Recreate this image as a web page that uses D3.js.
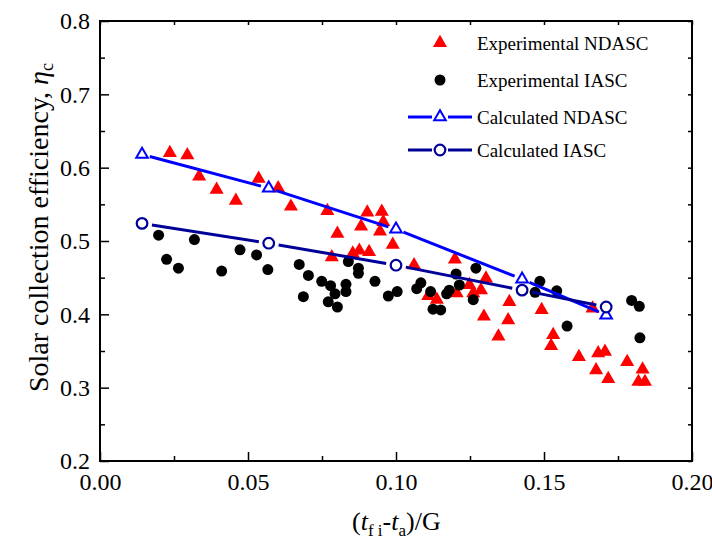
<!DOCTYPE html>
<html lang="en">
<head>
<meta charset="UTF-8">
<title>Solar collection efficiency</title>
<script src="https://cdnjs.cloudflare.com/ajax/libs/d3/7.8.5/d3.min.js"></script>
<style>
    body { margin: 0; padding: 0; background: #fff; }
    svg { display: block; font-family: "Liberation Serif", "Times New Roman", serif; }
</style>
</head>
<body>
<div id="chart"></div>
<script>
// experimental NDASC (red triangles)
const ndascExpX = [0.0236, 0.0295, 0.0335, 0.0394, 0.0459, 0.0536, 0.0602, 0.0645, 0.0768, 0.0802,
    0.0783, 0.0854, 0.0876, 0.0909, 0.0882, 0.0903, 0.0952, 0.0957, 0.0946, 0.0989,
    0.1061, 0.1109, 0.1138, 0.1199, 0.1205, 0.1248, 0.1287, 0.1261, 0.1304, 0.1383,
    0.1297, 0.1379, 0.1346, 0.1492, 0.1531, 0.1524, 0.1618, 0.1683, 0.1706, 0.1676,
    0.1717, 0.1664, 0.1781, 0.1833, 0.1819, 0.1841];
const ndascExpY = [0.620, 0.617, 0.588, 0.570, 0.555, 0.585, 0.572, 0.547, 0.541, 0.510,
    0.478, 0.483, 0.487, 0.485, 0.520, 0.539, 0.540, 0.526, 0.513, 0.495,
    0.467, 0.425, 0.420, 0.475, 0.429, 0.440, 0.433, 0.429, 0.449, 0.417,
    0.397, 0.392, 0.370, 0.406, 0.372, 0.357, 0.342, 0.347, 0.349, 0.324,
    0.312, 0.408, 0.335, 0.325, 0.308, 0.308];

// experimental IASC (black dots)
const iascExpX = [0.0198, 0.0319, 0.0225, 0.0265, 0.0411, 0.0473, 0.0529, 0.0567, 0.0673, 0.0704,
    0.0687, 0.0749, 0.0779, 0.0794, 0.0771, 0.0802, 0.0831, 0.0831, 0.0839, 0.0873,
    0.0873, 0.0929, 0.0974, 0.1004, 0.1070, 0.1084, 0.1117, 0.1125, 0.1151, 0.1171,
    0.1180, 0.1203, 0.1214, 0.1270, 0.1261, 0.1486, 0.1470, 0.1543, 0.1578, 0.1796,
    0.1822, 0.1824];
const iascExpY = [0.508, 0.502, 0.475, 0.463, 0.459, 0.488, 0.481, 0.461, 0.468, 0.453,
    0.424, 0.445, 0.439, 0.428, 0.417, 0.410, 0.441, 0.431, 0.472, 0.463,
    0.456, 0.445, 0.425, 0.431, 0.435, 0.443, 0.431, 0.407, 0.406, 0.428,
    0.433, 0.455, 0.440, 0.463, 0.420, 0.445, 0.430, 0.432, 0.384, 0.419,
    0.411, 0.368];

// calculated curves
const ndascCalcX = [0.0142, 0.0570, 0.1000, 0.1426, 0.1710];
const ndascCalcY = [0.618, 0.572, 0.516, 0.448, 0.399];
const iascCalcX = [0.0142, 0.0570, 0.1000, 0.1426, 0.1710];
const iascCalcY = [0.524, 0.497, 0.467, 0.433, 0.410];

const xTicks = [0, 0.05, 0.10, 0.15, 0.20];
const xMinor = [0.025, 0.075, 0.125, 0.175];
const yTicks = [0.2, 0.3, 0.4, 0.5, 0.6, 0.7, 0.8];
const yMinor = [0.25, 0.35, 0.45, 0.55, 0.65, 0.75];

const legendItems = ['Experimental NDASC', 'Experimental IASC', 'Calculated NDASC', 'Calculated IASC'];

const W = 712, H = 541;
const plotLeft = 100, plotRight = 692, plotTop = 21, plotBottom = 461;

const svg = d3.select('#chart').append('svg')
    .attr('width', W)
    .attr('height', H);

const x = d3.scaleLinear().domain([0, 0.2]).range([plotLeft, plotRight]);
const y = d3.scaleLinear().domain([0.2, 0.8]).range([plotBottom, plotTop]);

const red = '#ff0000';
const blue = '#0000ff';
const navy = '#000099';

const triangle = d3.symbol().type(d3.symbolTriangle).size(86);
const openTri = d3.symbol().type(d3.symbolTriangle).size(58);

// experimental points
const ndascExp = ndascExpX.map((v, i) => [v, ndascExpY[i]]);
const iascExp = iascExpX.map((v, i) => [v, iascExpY[i]]);

svg.append('g').selectAll('path')
    .data(ndascExp)
    .join('path')
    .attr('d', triangle)
    .attr('transform', d => `translate(${x(d[0])},${y(d[1])})`)
    .attr('fill', red);

svg.append('g').selectAll('circle')
    .data(iascExp)
    .join('circle')
    .attr('cx', d => x(d[0]))
    .attr('cy', d => y(d[1]))
    .attr('r', 5.5)
    .attr('fill', '#000');

// calculated lines with gaps around markers (Origin style)
function gappedLine(xs, ys, color, gap) {
    const g = svg.append('g');
    for (let i = 0; i < xs.length - 1; i++) {
        const x1 = x(xs[i]), y1 = y(ys[i]);
        const x2 = x(xs[i + 1]), y2 = y(ys[i + 1]);
        const len = Math.hypot(x2 - x1, y2 - y1);
        const ux = (x2 - x1) / len, uy = (y2 - y1) / len;
        g.append('line')
            .attr('x1', x1 + ux * gap).attr('y1', y1 + uy * gap)
            .attr('x2', x2 - ux * gap).attr('y2', y2 - uy * gap)
            .attr('stroke', color)
            .attr('stroke-width', 3);
    }
    return g;
}

gappedLine(ndascCalcX, ndascCalcY, blue, 8);
gappedLine(iascCalcX, iascCalcY, navy, 10);

svg.append('g').selectAll('path')
    .data(ndascCalcX.map((v, i) => [v, ndascCalcY[i]]))
    .join('path')
    .attr('d', openTri)
    .attr('transform', d => `translate(${x(d[0])},${y(d[1])})`)
    .attr('fill', '#fff')
    .attr('stroke', blue)
    .attr('stroke-width', 2);

svg.append('g').selectAll('circle')
    .data(iascCalcX.map((v, i) => [v, iascCalcY[i]]))
    .join('circle')
    .attr('cx', d => x(d[0]))
    .attr('cy', d => y(d[1]))
    .attr('r', 5.3)
    .attr('fill', '#fff')
    .attr('stroke', navy)
    .attr('stroke-width', 2.2);

// axes: ticks inward
function styleAxis(g) {
    g.select('.domain').remove();
    g.selectAll('line').attr('stroke', '#000').attr('stroke-width', 1.5);
    g.selectAll('text').attr('font-size', 24).attr('fill', '#000')
        .attr('font-family', '"Liberation Serif", "Times New Roman", serif');
}

svg.append('g')
    .attr('transform', `translate(0,${plotBottom})`)
    .call(d3.axisBottom(x).tickValues(xTicks).tickFormat(d3.format('.2f')).tickSize(-9).tickPadding(12))
    .call(styleAxis);
svg.append('g')
    .attr('transform', `translate(0,${plotBottom})`)
    .call(d3.axisBottom(x).tickValues(xMinor).tickFormat('').tickSize(-5))
    .call(styleAxis);
svg.append('g')
    .attr('transform', `translate(${plotLeft},0)`)
    .call(d3.axisLeft(y).tickValues(yTicks).tickFormat(d3.format('.1f')).tickSize(-9).tickPadding(10))
    .call(styleAxis);
svg.append('g')
    .attr('transform', `translate(${plotLeft},0)`)
    .call(d3.axisLeft(y).tickValues(yMinor).tickFormat('').tickSize(-5))
    .call(styleAxis);
svg.append('g')
    .attr('transform', `translate(0,${plotTop})`)
    .call(d3.axisTop(x).tickValues(xTicks.concat(xMinor)).tickFormat('').tickSize(-4))
    .call(styleAxis);
svg.append('g')
    .attr('transform', `translate(${plotRight},0)`)
    .call(d3.axisRight(y).tickValues(yTicks.concat(yMinor)).tickFormat('').tickSize(-4))
    .call(styleAxis);

// frame
svg.append('rect')
    .attr('x', plotLeft).attr('y', plotTop)
    .attr('width', plotRight - plotLeft).attr('height', plotBottom - plotTop)
    .attr('fill', 'none')
    .attr('stroke', '#000')
    .attr('stroke-width', 2);

// axis titles
const yTitle = svg.append('text')
    .attr('transform', 'translate(48,392) rotate(-90)')
    .attr('font-size', 28)
    .attr('fill', '#000');
yTitle.append('tspan').text('Solar collection efficiency, ');
yTitle.append('tspan').attr('font-style', 'italic').text('η');
yTitle.append('tspan').attr('font-size', 18).attr('dy', 5).text('c');

const xTitle = svg.append('text')
    .attr('x', 352).attr('y', 530)
    .attr('font-size', 26)
    .attr('fill', '#000');
xTitle.append('tspan').text('(');
xTitle.append('tspan').attr('font-style', 'italic').text('t');
xTitle.append('tspan').attr('font-size', 17).attr('dy', 6).text('f i');
xTitle.append('tspan').attr('dy', -6).text('-');
xTitle.append('tspan').attr('font-style', 'italic').text('t');
xTitle.append('tspan').attr('font-size', 17).attr('dy', 6).text('a');
xTitle.append('tspan').attr('dy', -6).text(')/G');

// legend
const legendY = [43, 80, 117, 150];
const legend = svg.append('g');
legendItems.forEach((label, i) => {
    const ly = legendY[i];
    const row = legend.append('g');
    if (i === 0) {
        row.append('path').attr('d', triangle)
            .attr('transform', `translate(440,${ly})`).attr('fill', red);
    } else if (i === 1) {
        row.append('circle').attr('cx', 440).attr('cy', ly).attr('r', 5.5).attr('fill', '#000');
    } else {
        const c = i === 2 ? blue : navy;
        row.append('line').attr('x1', 408).attr('x2', 432).attr('y1', ly).attr('y2', ly)
            .attr('stroke', c).attr('stroke-width', 3);
        row.append('line').attr('x1', 448).attr('x2', 472).attr('y1', ly).attr('y2', ly)
            .attr('stroke', c).attr('stroke-width', 3);
        if (i === 2) {
            row.append('path').attr('d', openTri)
                .attr('transform', `translate(440,${ly})`)
                .attr('fill', '#fff').attr('stroke', c).attr('stroke-width', 2);
        } else {
            row.append('circle').attr('cx', 440).attr('cy', ly).attr('r', 5.3)
                .attr('fill', '#fff').attr('stroke', c).attr('stroke-width', 2.2);
        }
    }
    row.append('text')
        .attr('x', 477).attr('y', ly + 7)
        .attr('font-size', 19)
        .attr('fill', '#000')
        .text(label);
});
</script>
</body>
</html>
